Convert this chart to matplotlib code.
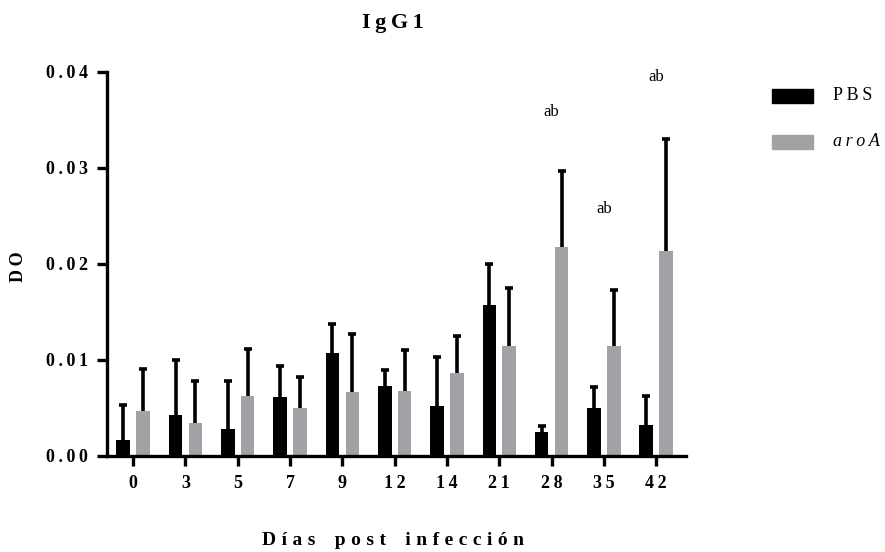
import matplotlib.pyplot as plt
from matplotlib.patches import Rectangle
import numpy as np

plt.rcParams['font.family'] = ['Liberation Serif', 'DejaVu Serif']

# Data
days = ['0', '3', '5', '7', '9', '12', '14', '21', '28', '35', '42']
pbs_mean = [0.0017, 0.0043, 0.0028, 0.0061, 0.0107, 0.0073, 0.0052, 0.0157, 0.0025, 0.0050, 0.0032]
pbs_upper = [0.0053, 0.0100, 0.0078, 0.0094, 0.0138, 0.0090, 0.0103, 0.0200, 0.0031, 0.0072, 0.0063]
aroa_mean = [0.0047, 0.0034, 0.0063, 0.0050, 0.0067, 0.0068, 0.0086, 0.0115, 0.0218, 0.0115, 0.0214]
aroa_upper = [0.0091, 0.0078, 0.0111, 0.0082, 0.0127, 0.0110, 0.0125, 0.0175, 0.0297, 0.0173, 0.0330]
sig_days = ['28', '35', '42']
sig_y = [0.0358, 0.0257, 0.0395]
y_ticks = [0.00, 0.01, 0.02, 0.03, 0.04]


def spaced(s, gap='\u2009', word_gap='\u2009\u2009\u2009'):
    # mimic the wide letter spacing of the original
    return word_gap.join(gap.join(w) for w in s.split(' '))


pbs_err = np.array(pbs_upper) - np.array(pbs_mean)
aroa_err = np.array(aroa_upper) - np.array(aroa_mean)
x = np.arange(len(days))
w = 0.26
off = 0.19
gray = '#a2a2a6'

fig = plt.figure(figsize=(8.85, 5.52), dpi=100)
ax = fig.add_axes([107 / 885, 1 - 456 / 552, (686 - 107) / 885, (456 - 72) / 552])

err_kw = dict(ecolor='black', elinewidth=2.6, capsize=2.6, capthick=2.6)
zeros = np.zeros(len(x))
b1 = ax.bar(x - off, pbs_mean, w, color='black',
            yerr=[zeros, pbs_err], error_kw=err_kw, zorder=2)
b2 = ax.bar(x + off, aroa_mean, w, color=gray,
            yerr=[zeros, aroa_err], error_kw=err_kw, zorder=2)
# only the upper cap is shown
for b in (b1, b2):
    b.errorbar.lines[1][0].set_visible(False)

for d, yv in zip(sig_days, sig_y):
    ax.text(days.index(d), yv, 'ab', ha='center', va='center', fontsize=12, clip_on=False)

ax.set_xlim(-0.5, 10.57)
ax.set_ylim(0, 0.04)
ax.set_xticks(x)
ax.set_xticklabels([spaced(d) for d in days], fontsize=13, fontweight='bold')
ax.set_yticks(y_ticks)
ax.set_yticklabels([spaced(f'{v:.2f}') for v in y_ticks], fontsize=13, fontweight='bold')
ax.tick_params(width=2.4, length=7, pad=7)

for s in ['top', 'right']:
    ax.spines[s].set_visible(False)
for s in ['left', 'bottom']:
    ax.spines[s].set_linewidth(2.4)

ax.set_ylabel(spaced('DO'), fontsize=13, fontweight='bold')
ax.yaxis.set_label_coords(-0.138, 0.492)
ax.set_xlabel(spaced('Días post infección', '\u2009\u200a', '\u2009' * 5),
              fontsize=14, fontweight='bold')
ax.xaxis.set_label_coords(0.494, -0.198)
fig.text(393 / 885, 1 - 23 / 552, spaced('IgG1'), ha='center', va='center',
         fontsize=16, fontweight='bold')

# legend, drawn by hand to match the placement
legend_labels = ['PBS', 'aroA']
legend_colors = ['black', gray]
legend_styles = ['normal', 'italic']
for i, (lab, col, sty) in enumerate(zip(legend_labels, legend_colors, legend_styles)):
    yc = 96 + 46 * i
    fig.add_artist(Rectangle((772 / 885, 1 - (yc + 7) / 552), 41 / 885, 14 / 552,
                             transform=fig.transFigure, color=col))
    fig.text(833 / 885, 1 - yc / 552, spaced(lab), ha='left', va='center',
             fontsize=13, style=sty)

plt.savefig('out.png', dpi=100, facecolor='white')
